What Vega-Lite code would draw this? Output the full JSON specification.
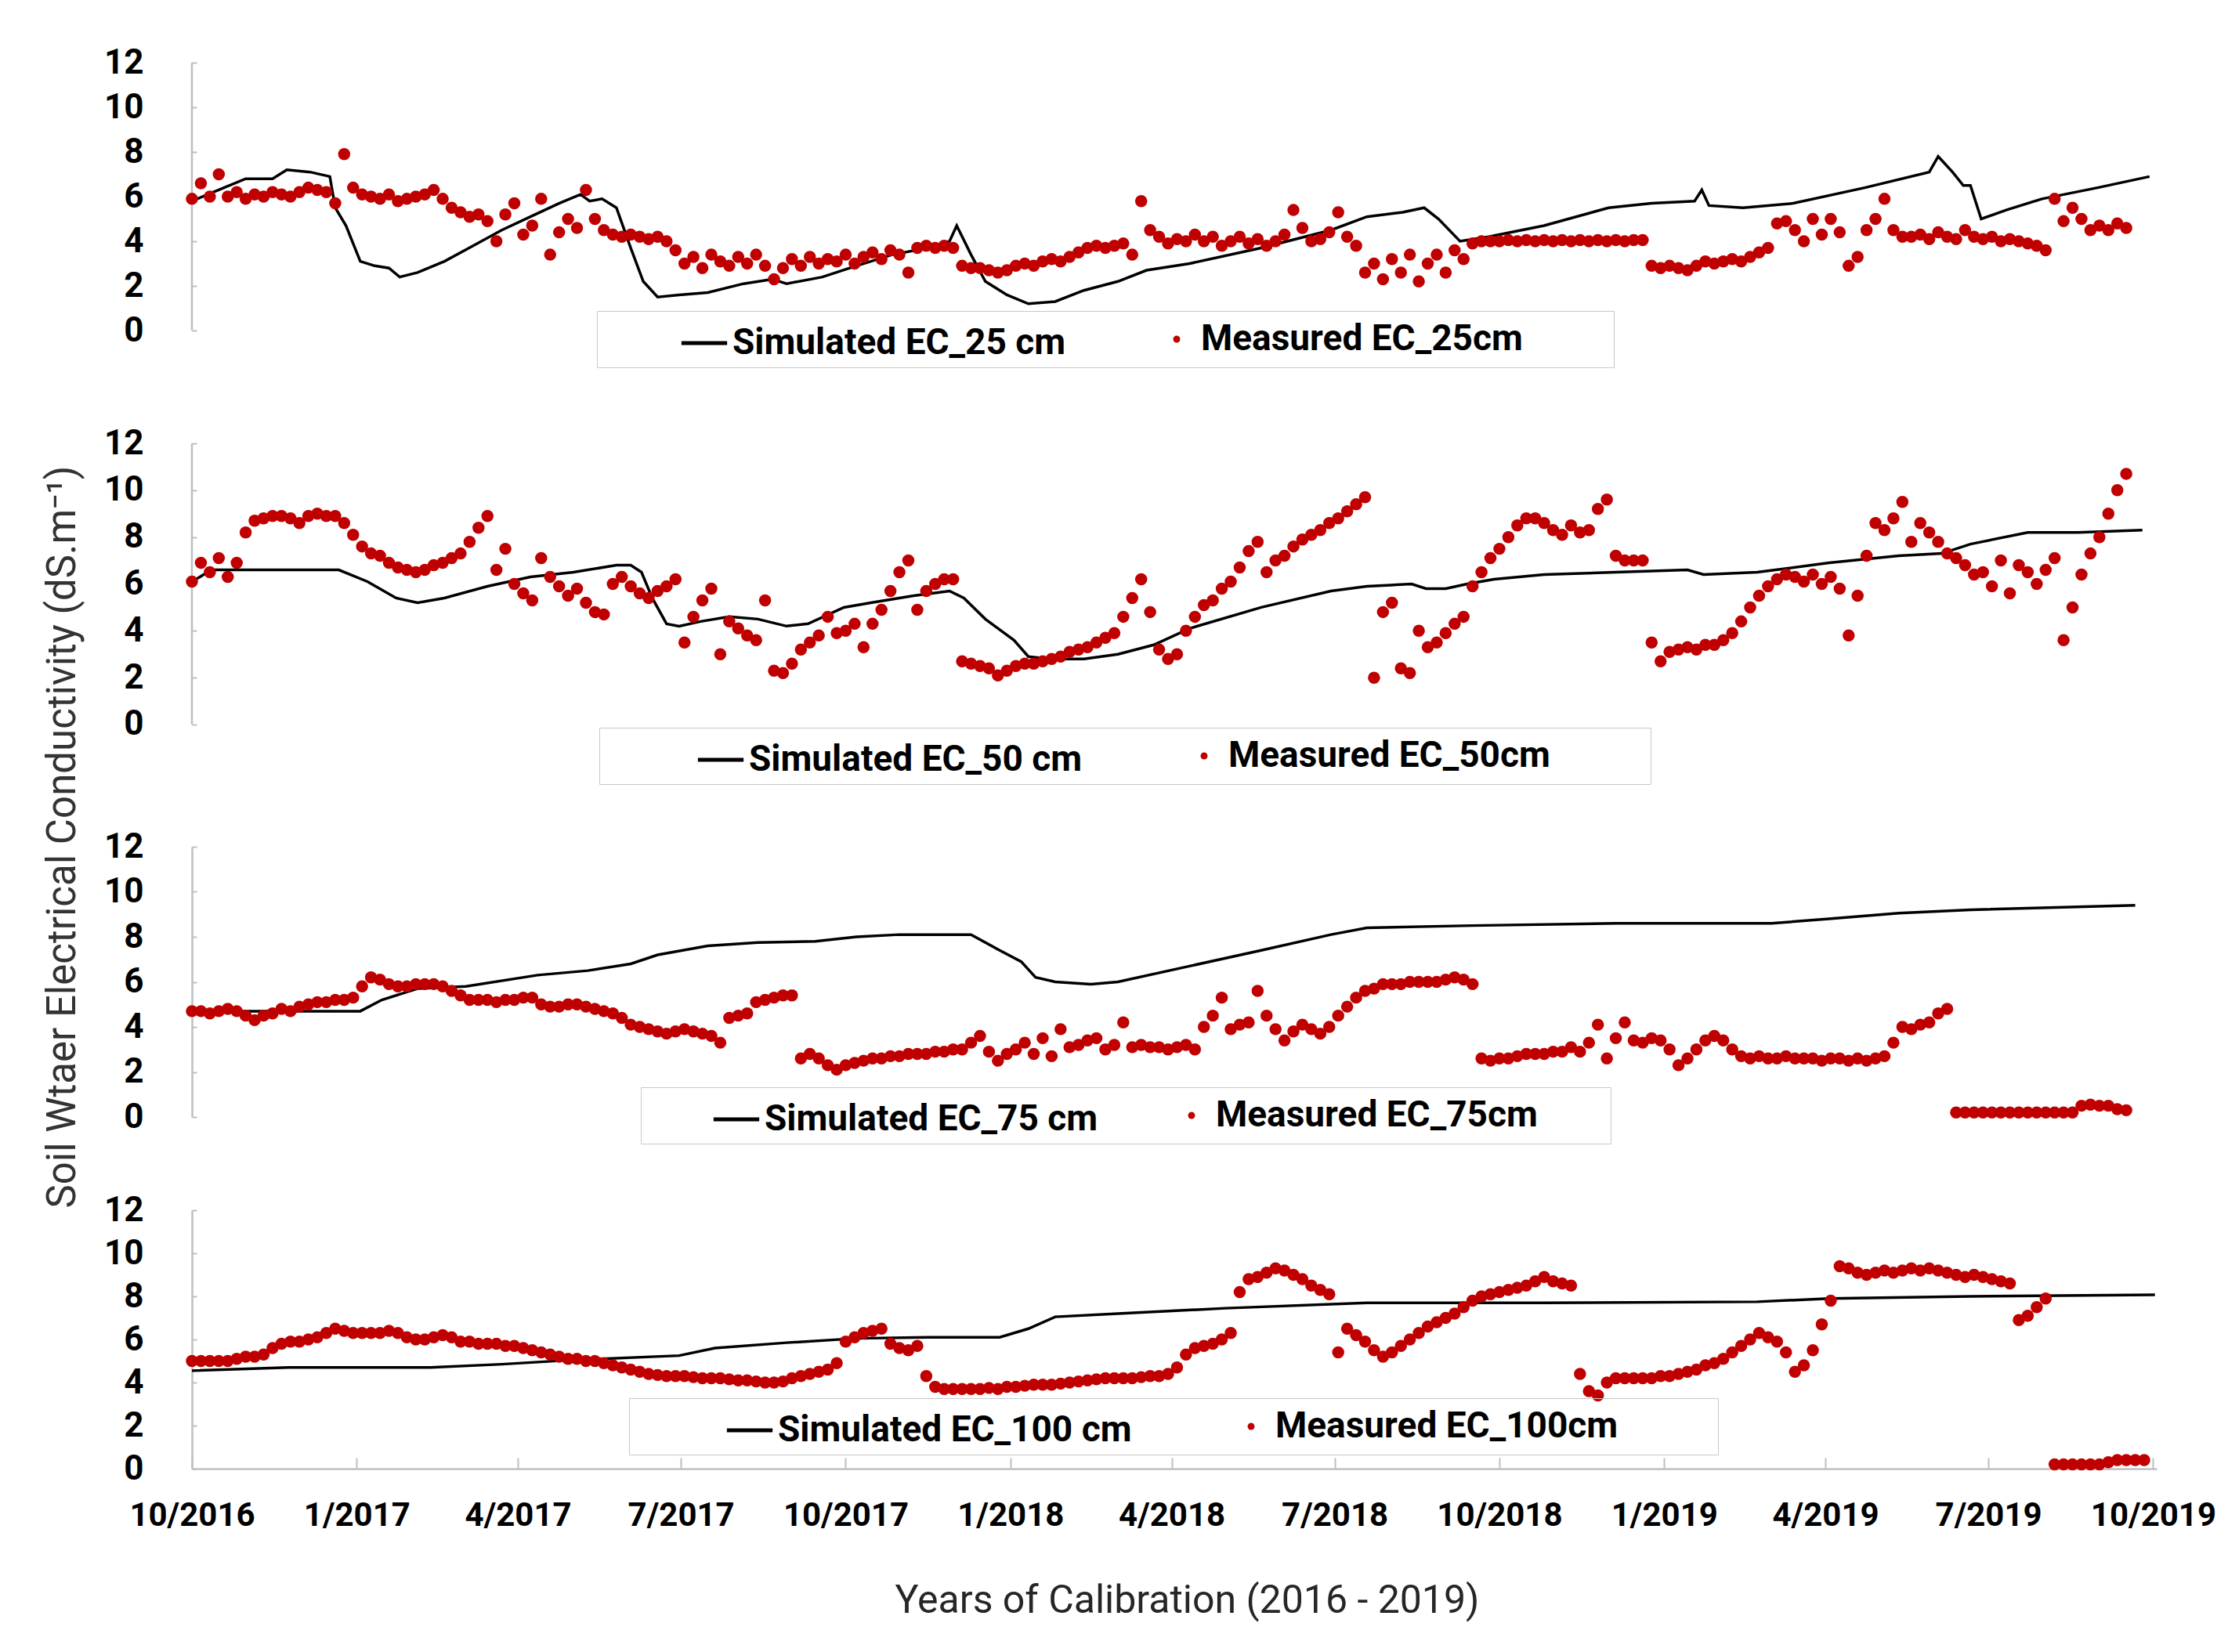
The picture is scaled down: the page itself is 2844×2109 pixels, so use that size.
{
"$schema": "https://vega.github.io/schema/vega-lite/v6.json",
"background": "white",
"padding": {"left": 53, "top": 58, "right": 30, "bottom": 30},
"spacing": 119,
"bounds": "flush",
"resolve": {"scale": {"color": "independent", "fill": "independent"}, "legend": {"color": "independent", "fill": "independent"}},
"config": {
  "view": {"stroke": null},
  "font": "Roboto",
  "axis": {"domainColor": "#bfbfbf", "domainWidth": 2.5, "tickColor": "#bfbfbf", "tickWidth": 2, "grid": false,
    "labelFont": "Roboto", "labelFontWeight": "bold", "labelFontSize": 44, "labelColor": "black", "labelLimit": 400,
    "titleFont": "Roboto", "titleFontWeight": "normal", "titleColor": "#262626"},
  "legend": {"orient": "none", "direction": "horizontal",
    "labelFont": "Roboto", "labelFontSize": 46, "labelFontWeight": "bold", "labelColor": "black", "labelLimit": 3000,
    "titleFont": "Roboto", "titleFontSize": 46, "padding": 9}
},
"datasets": {
"meas": [
{"d":"2016-10-01","m25":5.9,"m50":6.1,"m75":4.7,"m100":5.0},
{"d":"2016-10-06","m25":6.6,"m50":6.9,"m75":4.7,"m100":5.0},
{"d":"2016-10-11","m25":6.0,"m50":6.5,"m75":4.6,"m100":5.0},
{"d":"2016-10-16","m25":7.0,"m50":7.1,"m75":4.7,"m100":5.0},
{"d":"2016-10-21","m25":6.0,"m50":6.3,"m75":4.8,"m100":5.0},
{"d":"2016-10-26","m25":6.2,"m50":6.9,"m75":4.7,"m100":5.1},
{"d":"2016-10-31","m25":5.9,"m50":8.2,"m75":4.5,"m100":5.2},
{"d":"2016-11-05","m25":6.1,"m50":8.7,"m75":4.3,"m100":5.2},
{"d":"2016-11-10","m25":6.0,"m50":8.8,"m75":4.5,"m100":5.3},
{"d":"2016-11-15","m25":6.2,"m50":8.9,"m75":4.6,"m100":5.6},
{"d":"2016-11-20","m25":6.1,"m50":8.9,"m75":4.8,"m100":5.8},
{"d":"2016-11-25","m25":6.0,"m50":8.8,"m75":4.7,"m100":5.9},
{"d":"2016-11-30","m25":6.2,"m50":8.6,"m75":4.9,"m100":5.9},
{"d":"2016-12-05","m25":6.4,"m50":8.9,"m75":5.0,"m100":6.0},
{"d":"2016-12-10","m25":6.3,"m50":9.0,"m75":5.1,"m100":6.1},
{"d":"2016-12-15","m25":6.2,"m50":8.9,"m75":5.1,"m100":6.3},
{"d":"2016-12-20","m25":5.7,"m50":8.9,"m75":5.2,"m100":6.5},
{"d":"2016-12-25","m25":7.9,"m50":8.6,"m75":5.2,"m100":6.4},
{"d":"2016-12-30","m25":6.4,"m50":8.1,"m75":5.3,"m100":6.3},
{"d":"2017-01-04","m25":6.1,"m50":7.6,"m75":5.8,"m100":6.3},
{"d":"2017-01-09","m25":6.0,"m50":7.3,"m75":6.2,"m100":6.3},
{"d":"2017-01-14","m25":5.9,"m50":7.2,"m75":6.1,"m100":6.3},
{"d":"2017-01-19","m25":6.1,"m50":6.9,"m75":5.9,"m100":6.4},
{"d":"2017-01-24","m25":5.8,"m50":6.7,"m75":5.8,"m100":6.3},
{"d":"2017-01-29","m25":5.9,"m50":6.6,"m75":5.8,"m100":6.1},
{"d":"2017-02-03","m25":6.0,"m50":6.5,"m75":5.9,"m100":6.0},
{"d":"2017-02-08","m25":6.1,"m50":6.6,"m75":5.9,"m100":6.0},
{"d":"2017-02-13","m25":6.3,"m50":6.8,"m75":5.9,"m100":6.1},
{"d":"2017-02-18","m25":5.9,"m50":6.9,"m75":5.8,"m100":6.2},
{"d":"2017-02-23","m25":5.5,"m50":7.1,"m75":5.6,"m100":6.1},
{"d":"2017-02-28","m25":5.3,"m50":7.3,"m75":5.4,"m100":5.9},
{"d":"2017-03-05","m25":5.1,"m50":7.8,"m75":5.2,"m100":5.9},
{"d":"2017-03-10","m25":5.2,"m50":8.4,"m75":5.2,"m100":5.8},
{"d":"2017-03-15","m25":4.9,"m50":8.9,"m75":5.2,"m100":5.8},
{"d":"2017-03-20","m25":4.0,"m50":6.6,"m75":5.1,"m100":5.8},
{"d":"2017-03-25","m25":5.2,"m50":7.5,"m75":5.2,"m100":5.7},
{"d":"2017-03-30","m25":5.7,"m50":6.0,"m75":5.2,"m100":5.7},
{"d":"2017-04-04","m25":4.3,"m50":5.6,"m75":5.3,"m100":5.6},
{"d":"2017-04-09","m25":4.7,"m50":5.3,"m75":5.3,"m100":5.5},
{"d":"2017-04-14","m25":5.9,"m50":7.1,"m75":5.0,"m100":5.4},
{"d":"2017-04-19","m25":3.4,"m50":6.3,"m75":4.9,"m100":5.3},
{"d":"2017-04-24","m25":4.4,"m50":5.9,"m75":4.9,"m100":5.2},
{"d":"2017-04-29","m25":5.0,"m50":5.5,"m75":5.0,"m100":5.1},
{"d":"2017-05-04","m25":4.6,"m50":5.8,"m75":5.0,"m100":5.1},
{"d":"2017-05-09","m25":6.3,"m50":5.2,"m75":4.9,"m100":5.0},
{"d":"2017-05-14","m25":5.0,"m50":4.8,"m75":4.8,"m100":5.0},
{"d":"2017-05-19","m25":4.5,"m50":4.7,"m75":4.7,"m100":4.9},
{"d":"2017-05-24","m25":4.3,"m50":6.0,"m75":4.6,"m100":4.8},
{"d":"2017-05-29","m25":4.2,"m50":6.3,"m75":4.4,"m100":4.7},
{"d":"2017-06-03","m25":4.3,"m50":5.9,"m75":4.1,"m100":4.6},
{"d":"2017-06-08","m25":4.2,"m50":5.6,"m75":4.0,"m100":4.5},
{"d":"2017-06-13","m25":4.1,"m50":5.4,"m75":3.9,"m100":4.4},
{"d":"2017-06-18","m25":4.2,"m50":5.7,"m75":3.8,"m100":4.35},
{"d":"2017-06-23","m25":4.0,"m50":5.9,"m75":3.7,"m100":4.3},
{"d":"2017-06-28","m25":3.6,"m50":6.2,"m75":3.8,"m100":4.3},
{"d":"2017-07-03","m25":3.0,"m50":3.5,"m75":3.9,"m100":4.3},
{"d":"2017-07-08","m25":3.3,"m50":4.6,"m75":3.8,"m100":4.25},
{"d":"2017-07-13","m25":2.8,"m50":5.3,"m75":3.7,"m100":4.2},
{"d":"2017-07-18","m25":3.4,"m50":5.8,"m75":3.6,"m100":4.2},
{"d":"2017-07-23","m25":3.1,"m50":3.0,"m75":3.3,"m100":4.2},
{"d":"2017-07-28","m25":2.9,"m50":4.4,"m75":4.4,"m100":4.15},
{"d":"2017-08-02","m25":3.3,"m50":4.1,"m75":4.5,"m100":4.1},
{"d":"2017-08-07","m25":3.0,"m50":3.8,"m75":4.6,"m100":4.1},
{"d":"2017-08-12","m25":3.4,"m50":3.6,"m75":5.1,"m100":4.05},
{"d":"2017-08-17","m25":2.9,"m50":5.3,"m75":5.2,"m100":4.0},
{"d":"2017-08-22","m25":2.3,"m50":2.3,"m75":5.3,"m100":4.0},
{"d":"2017-08-27","m25":2.8,"m50":2.2,"m75":5.4,"m100":4.05},
{"d":"2017-09-01","m25":3.2,"m50":2.6,"m75":5.4,"m100":4.2},
{"d":"2017-09-06","m25":2.9,"m50":3.2,"m75":2.6,"m100":4.3},
{"d":"2017-09-11","m25":3.3,"m50":3.5,"m75":2.8,"m100":4.4},
{"d":"2017-09-16","m25":3.0,"m50":3.8,"m75":2.6,"m100":4.5},
{"d":"2017-09-21","m25":3.2,"m50":4.6,"m75":2.3,"m100":4.6},
{"d":"2017-09-26","m25":3.1,"m50":3.9,"m75":2.1,"m100":4.9},
{"d":"2017-10-01","m25":3.4,"m50":4.0,"m75":2.3,"m100":5.9},
{"d":"2017-10-06","m25":3.0,"m50":4.3,"m75":2.4,"m100":6.1},
{"d":"2017-10-11","m25":3.3,"m50":3.3,"m75":2.5,"m100":6.3},
{"d":"2017-10-16","m25":3.5,"m50":4.3,"m75":2.6,"m100":6.4},
{"d":"2017-10-21","m25":3.2,"m50":4.9,"m75":2.6,"m100":6.5},
{"d":"2017-10-26","m25":3.6,"m50":5.7,"m75":2.7,"m100":5.8},
{"d":"2017-10-31","m25":3.4,"m50":6.5,"m75":2.7,"m100":5.6},
{"d":"2017-11-05","m25":2.6,"m50":7.0,"m75":2.8,"m100":5.5},
{"d":"2017-11-10","m25":3.7,"m50":4.9,"m75":2.8,"m100":5.7},
{"d":"2017-11-15","m25":3.8,"m50":5.7,"m75":2.8,"m100":4.3},
{"d":"2017-11-20","m25":3.7,"m50":6.0,"m75":2.9,"m100":3.8},
{"d":"2017-11-25","m25":3.8,"m50":6.2,"m75":2.9,"m100":3.7},
{"d":"2017-11-30","m25":3.7,"m50":6.2,"m75":3.0,"m100":3.7},
{"d":"2017-12-05","m25":2.9,"m50":2.7,"m75":3.0,"m100":3.7},
{"d":"2017-12-10","m25":2.8,"m50":2.6,"m75":3.3,"m100":3.7},
{"d":"2017-12-15","m25":2.8,"m50":2.5,"m75":3.6,"m100":3.7},
{"d":"2017-12-20","m25":2.7,"m50":2.4,"m75":2.9,"m100":3.75},
{"d":"2017-12-25","m25":2.6,"m50":2.1,"m75":2.5,"m100":3.7},
{"d":"2017-12-30","m25":2.7,"m50":2.3,"m75":2.8,"m100":3.8},
{"d":"2018-01-04","m25":2.9,"m50":2.5,"m75":3.0,"m100":3.8},
{"d":"2018-01-09","m25":3.0,"m50":2.6,"m75":3.3,"m100":3.85},
{"d":"2018-01-14","m25":2.9,"m50":2.6,"m75":2.8,"m100":3.9},
{"d":"2018-01-19","m25":3.1,"m50":2.7,"m75":3.5,"m100":3.9},
{"d":"2018-01-24","m25":3.2,"m50":2.8,"m75":2.7,"m100":3.9},
{"d":"2018-01-29","m25":3.1,"m50":2.9,"m75":3.9,"m100":3.95},
{"d":"2018-02-03","m25":3.3,"m50":3.1,"m75":3.1,"m100":4.0},
{"d":"2018-02-08","m25":3.5,"m50":3.2,"m75":3.2,"m100":4.05},
{"d":"2018-02-13","m25":3.7,"m50":3.3,"m75":3.4,"m100":4.1},
{"d":"2018-02-18","m25":3.8,"m50":3.5,"m75":3.5,"m100":4.15},
{"d":"2018-02-23","m25":3.7,"m50":3.7,"m75":3.0,"m100":4.2},
{"d":"2018-02-28","m25":3.8,"m50":3.9,"m75":3.2,"m100":4.2},
{"d":"2018-03-05","m25":3.9,"m50":4.6,"m75":4.2,"m100":4.2},
{"d":"2018-03-10","m25":3.4,"m50":5.4,"m75":3.1,"m100":4.2},
{"d":"2018-03-15","m25":5.8,"m50":6.2,"m75":3.2,"m100":4.25},
{"d":"2018-03-20","m25":4.5,"m50":4.8,"m75":3.1,"m100":4.3},
{"d":"2018-03-25","m25":4.2,"m50":3.2,"m75":3.1,"m100":4.3},
{"d":"2018-03-30","m25":3.9,"m50":2.8,"m75":3.0,"m100":4.4},
{"d":"2018-04-04","m25":4.1,"m50":3.0,"m75":3.1,"m100":4.7},
{"d":"2018-04-09","m25":4.0,"m50":4.0,"m75":3.2,"m100":5.3},
{"d":"2018-04-14","m25":4.3,"m50":4.6,"m75":3.0,"m100":5.6},
{"d":"2018-04-19","m25":4.0,"m50":5.1,"m75":4.0,"m100":5.7},
{"d":"2018-04-24","m25":4.2,"m50":5.3,"m75":4.5,"m100":5.8},
{"d":"2018-04-29","m25":3.8,"m50":5.8,"m75":5.3,"m100":6.0},
{"d":"2018-05-04","m25":4.0,"m50":6.1,"m75":3.9,"m100":6.3},
{"d":"2018-05-09","m25":4.2,"m50":6.7,"m75":4.1,"m100":8.2},
{"d":"2018-05-14","m25":3.9,"m50":7.4,"m75":4.2,"m100":8.8},
{"d":"2018-05-19","m25":4.1,"m50":7.8,"m75":5.6,"m100":8.9},
{"d":"2018-05-24","m25":3.8,"m50":6.5,"m75":4.5,"m100":9.1},
{"d":"2018-05-29","m25":4.0,"m50":7.0,"m75":3.9,"m100":9.3},
{"d":"2018-06-03","m25":4.3,"m50":7.2,"m75":3.4,"m100":9.2},
{"d":"2018-06-08","m25":5.4,"m50":7.6,"m75":3.8,"m100":9.0},
{"d":"2018-06-13","m25":4.6,"m50":7.9,"m75":4.1,"m100":8.8},
{"d":"2018-06-18","m25":4.0,"m50":8.1,"m75":3.9,"m100":8.5},
{"d":"2018-06-23","m25":4.1,"m50":8.3,"m75":3.7,"m100":8.3},
{"d":"2018-06-28","m25":4.4,"m50":8.6,"m75":4.0,"m100":8.1},
{"d":"2018-07-03","m25":5.3,"m50":8.8,"m75":4.5,"m100":5.4},
{"d":"2018-07-08","m25":4.2,"m50":9.1,"m75":4.9,"m100":6.5},
{"d":"2018-07-13","m25":3.8,"m50":9.4,"m75":5.3,"m100":6.2},
{"d":"2018-07-18","m25":2.6,"m50":9.7,"m75":5.6,"m100":5.9},
{"d":"2018-07-23","m25":3.0,"m50":2.0,"m75":5.7,"m100":5.5},
{"d":"2018-07-28","m25":2.3,"m50":4.8,"m75":5.9,"m100":5.2},
{"d":"2018-08-02","m25":3.2,"m50":5.2,"m75":5.9,"m100":5.4},
{"d":"2018-08-07","m25":2.6,"m50":2.4,"m75":5.9,"m100":5.7},
{"d":"2018-08-12","m25":3.4,"m50":2.2,"m75":6.0,"m100":6.0},
{"d":"2018-08-17","m25":2.2,"m50":4.0,"m75":6.0,"m100":6.3},
{"d":"2018-08-22","m25":3.0,"m50":3.3,"m75":6.0,"m100":6.6},
{"d":"2018-08-27","m25":3.4,"m50":3.5,"m75":6.0,"m100":6.8},
{"d":"2018-09-01","m25":2.6,"m50":3.9,"m75":6.1,"m100":7.0},
{"d":"2018-09-06","m25":3.6,"m50":4.3,"m75":6.2,"m100":7.2},
{"d":"2018-09-11","m25":3.2,"m50":4.6,"m75":6.1,"m100":7.5},
{"d":"2018-09-16","m25":3.9,"m50":5.9,"m75":5.9,"m100":7.8},
{"d":"2018-09-21","m25":4.0,"m50":6.5,"m75":2.6,"m100":8.0},
{"d":"2018-09-26","m25":4.0,"m50":7.1,"m75":2.5,"m100":8.1},
{"d":"2018-10-01","m25":4.0,"m50":7.5,"m75":2.6,"m100":8.2},
{"d":"2018-10-06","m25":4.05,"m50":8.0,"m75":2.6,"m100":8.3},
{"d":"2018-10-11","m25":4.0,"m50":8.5,"m75":2.7,"m100":8.4},
{"d":"2018-10-16","m25":4.05,"m50":8.8,"m75":2.8,"m100":8.5},
{"d":"2018-10-21","m25":4.0,"m50":8.8,"m75":2.8,"m100":8.7},
{"d":"2018-10-26","m25":4.05,"m50":8.6,"m75":2.8,"m100":8.9},
{"d":"2018-10-31","m25":4.0,"m50":8.3,"m75":2.9,"m100":8.7},
{"d":"2018-11-05","m25":4.05,"m50":8.1,"m75":2.9,"m100":8.6},
{"d":"2018-11-10","m25":4.0,"m50":8.5,"m75":3.1,"m100":8.5},
{"d":"2018-11-15","m25":4.05,"m50":8.2,"m75":2.9,"m100":4.4},
{"d":"2018-11-20","m25":4.0,"m50":8.3,"m75":3.3,"m100":3.6},
{"d":"2018-11-25","m25":4.05,"m50":9.2,"m75":4.1,"m100":3.4},
{"d":"2018-11-30","m25":4.0,"m50":9.6,"m75":2.6,"m100":4.0},
{"d":"2018-12-05","m25":4.05,"m50":7.2,"m75":3.5,"m100":4.2},
{"d":"2018-12-10","m25":4.0,"m50":7.0,"m75":4.2,"m100":4.2},
{"d":"2018-12-15","m25":4.05,"m50":7.0,"m75":3.4,"m100":4.2},
{"d":"2018-12-20","m25":4.05,"m50":7.0,"m75":3.3,"m100":4.2},
{"d":"2018-12-25","m25":2.9,"m50":3.5,"m75":3.5,"m100":4.2},
{"d":"2018-12-30","m25":2.8,"m50":2.7,"m75":3.4,"m100":4.3},
{"d":"2019-01-04","m25":2.9,"m50":3.1,"m75":3.0,"m100":4.3},
{"d":"2019-01-09","m25":2.8,"m50":3.2,"m75":2.3,"m100":4.4},
{"d":"2019-01-14","m25":2.7,"m50":3.3,"m75":2.6,"m100":4.5},
{"d":"2019-01-19","m25":2.9,"m50":3.2,"m75":3.0,"m100":4.6},
{"d":"2019-01-24","m25":3.1,"m50":3.4,"m75":3.4,"m100":4.8},
{"d":"2019-01-29","m25":3.0,"m50":3.4,"m75":3.6,"m100":4.9},
{"d":"2019-02-03","m25":3.1,"m50":3.6,"m75":3.4,"m100":5.1},
{"d":"2019-02-08","m25":3.2,"m50":3.9,"m75":3.0,"m100":5.4},
{"d":"2019-02-13","m25":3.1,"m50":4.4,"m75":2.7,"m100":5.7},
{"d":"2019-02-18","m25":3.3,"m50":5.0,"m75":2.6,"m100":6.0},
{"d":"2019-02-23","m25":3.5,"m50":5.5,"m75":2.7,"m100":6.3},
{"d":"2019-02-28","m25":3.7,"m50":5.9,"m75":2.6,"m100":6.1},
{"d":"2019-03-05","m25":4.8,"m50":6.2,"m75":2.6,"m100":5.9},
{"d":"2019-03-10","m25":4.9,"m50":6.4,"m75":2.7,"m100":5.4},
{"d":"2019-03-15","m25":4.5,"m50":6.3,"m75":2.6,"m100":4.5},
{"d":"2019-03-20","m25":4.0,"m50":6.1,"m75":2.6,"m100":4.8},
{"d":"2019-03-25","m25":5.0,"m50":6.4,"m75":2.6,"m100":5.5},
{"d":"2019-03-30","m25":4.3,"m50":6.0,"m75":2.5,"m100":6.7},
{"d":"2019-04-04","m25":5.0,"m50":6.3,"m75":2.6,"m100":7.8},
{"d":"2019-04-09","m25":4.4,"m50":5.8,"m75":2.6,"m100":9.4},
{"d":"2019-04-14","m25":2.9,"m50":3.8,"m75":2.5,"m100":9.3},
{"d":"2019-04-19","m25":3.3,"m50":5.5,"m75":2.6,"m100":9.1},
{"d":"2019-04-24","m25":4.5,"m50":7.2,"m75":2.5,"m100":9.0},
{"d":"2019-04-29","m25":5.0,"m50":8.6,"m75":2.6,"m100":9.1},
{"d":"2019-05-04","m25":5.9,"m50":8.3,"m75":2.7,"m100":9.2},
{"d":"2019-05-09","m25":4.5,"m50":8.8,"m75":3.3,"m100":9.1},
{"d":"2019-05-14","m25":4.2,"m50":9.5,"m75":4.0,"m100":9.2},
{"d":"2019-05-19","m25":4.2,"m50":7.8,"m75":3.9,"m100":9.3},
{"d":"2019-05-24","m25":4.3,"m50":8.6,"m75":4.1,"m100":9.2},
{"d":"2019-05-29","m25":4.1,"m50":8.2,"m75":4.2,"m100":9.3},
{"d":"2019-06-03","m25":4.4,"m50":7.8,"m75":4.6,"m100":9.2},
{"d":"2019-06-08","m25":4.2,"m50":7.3,"m75":4.8,"m100":9.1},
{"d":"2019-06-13","m25":4.1,"m50":7.1,"m75":0.2,"m100":9.0},
{"d":"2019-06-18","m25":4.5,"m50":6.8,"m75":0.2,"m100":8.9},
{"d":"2019-06-23","m25":4.2,"m50":6.4,"m75":0.2,"m100":9.0},
{"d":"2019-06-28","m25":4.1,"m50":6.5,"m75":0.2,"m100":8.9},
{"d":"2019-07-03","m25":4.2,"m50":5.9,"m75":0.2,"m100":8.8},
{"d":"2019-07-08","m25":4.0,"m50":7.0,"m75":0.2,"m100":8.7},
{"d":"2019-07-13","m25":4.1,"m50":5.6,"m75":0.2,"m100":8.6},
{"d":"2019-07-18","m25":4.0,"m50":6.8,"m75":0.2,"m100":6.9},
{"d":"2019-07-23","m25":3.9,"m50":6.5,"m75":0.2,"m100":7.1},
{"d":"2019-07-28","m25":3.8,"m50":6.0,"m75":0.2,"m100":7.5},
{"d":"2019-08-02","m25":3.6,"m50":6.6,"m75":0.2,"m100":7.9},
{"d":"2019-08-07","m25":5.9,"m50":7.1,"m75":0.2,"m100":0.2},
{"d":"2019-08-12","m25":4.9,"m50":3.6,"m75":0.2,"m100":0.2},
{"d":"2019-08-17","m25":5.5,"m50":5.0,"m75":0.2,"m100":0.2},
{"d":"2019-08-22","m25":5.0,"m50":6.4,"m75":0.5,"m100":0.2},
{"d":"2019-08-27","m25":4.5,"m50":7.3,"m75":0.55,"m100":0.2},
{"d":"2019-09-01","m25":4.7,"m50":8.0,"m75":0.5,"m100":0.2},
{"d":"2019-09-06","m25":4.5,"m50":9.0,"m75":0.5,"m100":0.3},
{"d":"2019-09-11","m25":4.8,"m50":10.0,"m75":0.35,"m100":0.4},
{"d":"2019-09-16","m25":4.6,"m50":10.7,"m75":0.3,"m100":0.4},
{"d":"2019-09-21","m25":null,"m50":null,"m75":null,"m100":0.4},
{"d":"2019-09-26","m25":null,"m50":null,"m75":null,"m100":0.4}
],
"s25": [
{"d":"2016-10-01","v":5.8},{"d":"2016-10-16","v":6.3},{"d":"2016-10-31","v":6.8},{"d":"2016-11-15","v":6.8},
{"d":"2016-11-23","v":7.2},{"d":"2016-12-06","v":7.1},{"d":"2016-12-17","v":6.9},{"d":"2016-12-20","v":5.5},
{"d":"2016-12-26","v":4.7},{"d":"2017-01-03","v":3.1},{"d":"2017-01-11","v":2.9},{"d":"2017-01-19","v":2.8},
{"d":"2017-01-25","v":2.4},{"d":"2017-02-04","v":2.6},{"d":"2017-02-19","v":3.1},{"d":"2017-03-07","v":3.8},
{"d":"2017-03-23","v":4.5},{"d":"2017-04-08","v":5.1},{"d":"2017-04-24","v":5.7},{"d":"2017-05-06","v":6.1},
{"d":"2017-05-11","v":5.8},{"d":"2017-05-18","v":5.9},{"d":"2017-05-26","v":5.5},{"d":"2017-06-03","v":3.7},
{"d":"2017-06-10","v":2.2},{"d":"2017-06-18","v":1.5},{"d":"2017-06-30","v":1.6},{"d":"2017-07-16","v":1.7},
{"d":"2017-08-05","v":2.1},{"d":"2017-08-21","v":2.3},{"d":"2017-08-29","v":2.1},{"d":"2017-09-18","v":2.4},
{"d":"2017-10-07","v":2.9},{"d":"2017-10-27","v":3.4},{"d":"2017-11-16","v":3.7},{"d":"2017-11-28","v":4.0},
{"d":"2017-12-02","v":4.7},{"d":"2017-12-10","v":3.4},{"d":"2017-12-18","v":2.2},{"d":"2017-12-30","v":1.6},
{"d":"2018-01-11","v":1.2},{"d":"2018-01-26","v":1.3},{"d":"2018-02-11","v":1.8},{"d":"2018-03-02","v":2.2},
{"d":"2018-03-18","v":2.7},{"d":"2018-04-11","v":3.0},{"d":"2018-05-21","v":3.7},{"d":"2018-06-29","v":4.5},
{"d":"2018-07-19","v":5.1},{"d":"2018-08-08","v":5.3},{"d":"2018-08-20","v":5.5},{"d":"2018-08-28","v":5.0},
{"d":"2018-09-09","v":4.0},{"d":"2018-09-25","v":4.2},{"d":"2018-10-26","v":4.7},{"d":"2018-12-01","v":5.5},
{"d":"2018-12-25","v":5.7},{"d":"2019-01-18","v":5.8},{"d":"2019-01-22","v":6.3},{"d":"2019-01-26","v":5.6},
{"d":"2019-02-14","v":5.5},{"d":"2019-03-14","v":5.7},{"d":"2019-04-23","v":6.4},{"d":"2019-05-29","v":7.1},
{"d":"2019-06-03","v":7.8},{"d":"2019-06-11","v":7.1},{"d":"2019-06-17","v":6.5},{"d":"2019-06-21","v":6.5},
{"d":"2019-06-27","v":5.0},{"d":"2019-07-11","v":5.4},{"d":"2019-07-31","v":5.9},{"d":"2019-08-31","v":6.4},
{"d":"2019-09-29","v":6.9}
],
"s50": [
{"d":"2016-10-01","v":6.1},{"d":"2016-10-12","v":6.6},{"d":"2016-12-22","v":6.6},{"d":"2017-01-07","v":6.1},
{"d":"2017-01-23","v":5.4},{"d":"2017-02-04","v":5.2},{"d":"2017-02-19","v":5.4},{"d":"2017-03-15","v":5.9},
{"d":"2017-04-08","v":6.3},{"d":"2017-05-02","v":6.5},{"d":"2017-05-26","v":6.8},{"d":"2017-06-03","v":6.8},
{"d":"2017-06-09","v":6.5},{"d":"2017-06-15","v":5.4},{"d":"2017-06-23","v":4.3},{"d":"2017-06-30","v":4.2},
{"d":"2017-07-12","v":4.4},{"d":"2017-07-28","v":4.6},{"d":"2017-08-13","v":4.5},{"d":"2017-08-29","v":4.2},
{"d":"2017-09-10","v":4.3},{"d":"2017-09-30","v":5.0},{"d":"2017-10-15","v":5.2},{"d":"2017-11-08","v":5.5},
{"d":"2017-11-28","v":5.7},{"d":"2017-12-06","v":5.4},{"d":"2017-12-18","v":4.5},{"d":"2018-01-03","v":3.6},
{"d":"2018-01-11","v":2.9},{"d":"2018-01-23","v":2.8},{"d":"2018-02-11","v":2.8},{"d":"2018-03-02","v":3.0},
{"d":"2018-03-22","v":3.4},{"d":"2018-04-11","v":4.1},{"d":"2018-05-21","v":5.0},{"d":"2018-06-29","v":5.7},
{"d":"2018-07-19","v":5.9},{"d":"2018-08-13","v":6.0},{"d":"2018-08-21","v":5.8},{"d":"2018-09-01","v":5.8},
{"d":"2018-09-13","v":6.0},{"d":"2018-09-28","v":6.2},{"d":"2018-10-26","v":6.4},{"d":"2018-12-05","v":6.5},
{"d":"2019-01-14","v":6.6},{"d":"2019-01-23","v":6.4},{"d":"2019-02-22","v":6.5},{"d":"2019-04-03","v":6.9},
{"d":"2019-05-12","v":7.2},{"d":"2019-06-05","v":7.3},{"d":"2019-06-21","v":7.7},{"d":"2019-07-23","v":8.2},
{"d":"2019-08-20","v":8.2},{"d":"2019-09-25","v":8.3}
],
"s75": [
{"d":"2016-10-01","v":4.7},{"d":"2017-01-03","v":4.7},{"d":"2017-01-15","v":5.2},{"d":"2017-02-04","v":5.7},
{"d":"2017-03-03","v":5.8},{"d":"2017-04-12","v":6.3},{"d":"2017-05-10","v":6.5},{"d":"2017-06-03","v":6.8},
{"d":"2017-06-18","v":7.2},{"d":"2017-07-16","v":7.6},{"d":"2017-08-13","v":7.75},{"d":"2017-09-14","v":7.8},
{"d":"2017-10-07","v":8.0},{"d":"2017-10-31","v":8.1},{"d":"2017-12-10","v":8.1},{"d":"2017-12-26","v":7.4},
{"d":"2018-01-07","v":6.9},{"d":"2018-01-15","v":6.2},{"d":"2018-01-26","v":6.0},{"d":"2018-02-15","v":5.9},
{"d":"2018-03-02","v":6.0},{"d":"2018-04-11","v":6.7},{"d":"2018-05-21","v":7.4},{"d":"2018-06-29","v":8.1},
{"d":"2018-07-19","v":8.4},{"d":"2018-09-16","v":8.5},{"d":"2018-12-05","v":8.6},{"d":"2019-03-02","v":8.6},
{"d":"2019-04-03","v":8.8},{"d":"2019-05-12","v":9.05},{"d":"2019-06-21","v":9.2},{"d":"2019-09-21","v":9.4}
],
"s100": [
{"d":"2016-10-01","v":4.55},{"d":"2016-11-24","v":4.7},{"d":"2017-02-11","v":4.7},{"d":"2017-03-23","v":4.85},
{"d":"2017-05-02","v":5.05},{"d":"2017-06-30","v":5.25},{"d":"2017-07-20","v":5.6},{"d":"2017-08-29","v":5.85},
{"d":"2017-10-07","v":6.05},{"d":"2017-11-16","v":6.1},{"d":"2017-12-26","v":6.1},{"d":"2018-01-11","v":6.5},
{"d":"2018-01-26","v":7.05},{"d":"2018-03-02","v":7.2},{"d":"2018-05-01","v":7.45},{"d":"2018-07-19","v":7.7},
{"d":"2018-10-26","v":7.7},{"d":"2019-02-22","v":7.75},{"d":"2019-04-03","v":7.9},{"d":"2019-06-21","v":8.0},
{"d":"2019-10-02","v":8.07}
]
},
"vconcat": [
{
"width": 2508, "height": 367,
"layer": [
{"data": {"values": [{}]}, "mark": {"type": "rule", "color": "#bfbfbf", "strokeWidth": 2.5},
 "encoding": {
  "x": {"datum": {"year":2016,"month":10,"date":1}, "type": "temporal", "scale": {"domain": [{"year":2016,"month":10,"date":1},{"year":2019,"month":10,"date":3}]}, "axis": null},
  "y": {"datum": 0, "type": "quantitative", "scale": {"domain": [-0.877, 12], "nice": false, "zero": false},
   "axis": {"values": [0,2,4,6,8,10,12], "title": null, "tickSize": -6, "labelPadding": 68, "domain": false}},
  "y2": {"datum": 12}
 }},
{"data": {"name": "s25"}, "mark": {"type": "line", "strokeWidth": 3.5},
 "encoding": {
  "x": {"field": "d", "type": "temporal"},
  "y": {"field": "v", "type": "quantitative"},
  "color": {"datum": "Simulated EC_25 cm", "type": "nominal", "scale": {"range": ["black"]},
   "legend": {"title": "\u00a0", "titleOrient": "left", "titlePadding": 96, "legendX": 517, "legendY": 317,
    "symbolType": "stroke", "symbolStrokeWidth": 5, "symbolSize": 3400, "labelOffset": 4}}
 }},
{"data": {"name": "meas"}, "mark": {"type": "circle", "size": 240, "opacity": 1},
 "encoding": {
  "x": {"field": "d", "type": "temporal"},
  "y": {"field": "m25", "type": "quantitative"},
  "fill": {"datum": "Measured EC_25cm", "type": "nominal", "scale": {"range": ["#c00000"]},
   "legend": {"title": "\u00a0", "titleOrient": "left", "titlePadding": 704, "padding": 13, "legendX": 517, "legendY": 317, "symbolType": "circle", "symbolSize": 80, "labelOffset": 8,
    "strokeColor": "#c8c8c8", "labelExpr": "pad(datum.label, 25, '\u00a0') + '\u200b'"}}
 }}
]
},
{
"width": 2508, "height": 396,
"layer": [
{"data": {"values": [{}]}, "mark": {"type": "rule", "color": "#bfbfbf", "strokeWidth": 2.5},
 "encoding": {
  "x": {"datum": {"year":2016,"month":10,"date":1}, "type": "temporal", "scale": {"domain": [{"year":2016,"month":10,"date":1},{"year":2019,"month":10,"date":3}]}, "axis": null},
  "y": {"datum": 0, "type": "quantitative", "scale": {"domain": [-1.237, 12], "nice": false, "zero": false},
   "axis": {"values": [0,2,4,6,8,10,12], "tickSize": -6, "labelPadding": 68, "domain": false,
    "title": "Soil Wtaer Electrical Conductivity (dS.m\u207b\u00b9)", "titleX": -165, "titleY": 502, "titleAngle": 270, "titleAlign": "center", "titleBaseline": "middle",
    "titleFont": "Roboto", "titleFontSize": 51, "titleFontWeight": "normal", "titleColor": "#333333"}},
  "y2": {"datum": 12}
 }},
{"data": {"name": "s50"}, "mark": {"type": "line", "strokeWidth": 3.5},
 "encoding": {
  "x": {"field": "d", "type": "temporal"},
  "y": {"field": "v", "type": "quantitative"},
  "color": {"datum": "Simulated EC_50 cm", "type": "nominal", "scale": {"range": ["black"]},
   "legend": {"title": "\u00a0", "titleOrient": "left", "titlePadding": 114, "legendX": 520, "legendY": 363,
    "symbolType": "stroke", "symbolStrokeWidth": 5, "symbolSize": 3400, "labelOffset": 4}}
 }},
{"data": {"name": "meas"}, "mark": {"type": "circle", "size": 240, "opacity": 1},
 "encoding": {
  "x": {"field": "d", "type": "temporal"},
  "y": {"field": "m50", "type": "quantitative"},
  "fill": {"datum": "Measured EC_50cm", "type": "nominal", "scale": {"range": ["#c00000"]},
   "legend": {"title": "\u00a0", "titleOrient": "left", "titlePadding": 736, "padding": 13, "legendX": 520, "legendY": 363, "symbolType": "circle", "symbolSize": 80, "labelOffset": 8,
    "strokeColor": "#c8c8c8", "labelExpr": "pad(datum.label, 26, '\u00a0') + '\u200b'"}}
 }}
]
},
{
"width": 2508, "height": 345,
"layer": [
{"data": {"name": "s75"}, "mark": {"type": "line", "strokeWidth": 3.5},
 "encoding": {
  "x": {"field": "d", "type": "temporal", "scale": {"domain": [{"year":2016,"month":10,"date":1},{"year":2019,"month":10,"date":3}]}, "axis": null},
  "y": {"field": "v", "type": "quantitative", "scale": {"domain": [0, 12], "nice": false}, "axis": {"values": [0,2,4,6,8,10,12], "title": null, "tickSize": -6, "labelPadding": 68}},
  "color": {"datum": "Simulated EC_75 cm", "type": "nominal", "scale": {"range": ["black"]},
   "legend": {"title": "\u00a0", "titleOrient": "left", "titlePadding": 81, "legendX": 573, "legendY": 307,
    "symbolType": "stroke", "symbolStrokeWidth": 5, "symbolSize": 3400, "labelOffset": 4}}
 }},
{"data": {"name": "meas"}, "mark": {"type": "circle", "size": 240, "opacity": 1},
 "encoding": {
  "x": {"field": "d", "type": "temporal"},
  "y": {"field": "m75", "type": "quantitative"},
  "fill": {"datum": "Measured EC_75cm", "type": "nominal", "scale": {"range": ["#c00000"]},
   "legend": {"title": "\u00a0", "titleOrient": "left", "titlePadding": 667, "padding": 13, "legendX": 573, "legendY": 307, "symbolType": "circle", "symbolSize": 80, "labelOffset": 8,
    "strokeColor": "#c8c8c8", "labelExpr": "pad(datum.label, 23, '\u00a0') + '\u200b'"}}
 }}
]
},
{
"width": 2508, "height": 330,
"layer": [
{"data": {"name": "s100"}, "mark": {"type": "line", "strokeWidth": 3.5},
 "encoding": {
  "x": {"field": "d", "type": "temporal", "scale": {"domain": [{"year":2016,"month":10,"date":1},{"year":2019,"month":10,"date":3}]},
   "axis": {"values": [{"year":2016,"month":10,"date":1},{"year":2017,"month":1,"date":1},{"year":2017,"month":4,"date":1},{"year":2017,"month":7,"date":1},{"year":2017,"month":10,"date":1},{"year":2018,"month":1,"date":1},{"year":2018,"month":4,"date":1},{"year":2018,"month":7,"date":1},{"year":2018,"month":10,"date":1},{"year":2019,"month":1,"date":1},{"year":2019,"month":4,"date":1},{"year":2019,"month":7,"date":1},{"year":2019,"month":10,"date":1}],
    "format": "%-m/%Y", "labelAngle": 0, "labelAlign": "center", "labelFlush": false, "labelOverlap": false, "tickSize": -14, "labelPadding": 53, "labelFontSize": 42,
    "title": "Years of Calibration (2016 - 2019)", "titleFontSize": 50, "titlePadding": 63, "titleX": 1270}},
  "y": {"field": "v", "type": "quantitative", "scale": {"domain": [0, 12], "nice": false}, "axis": {"values": [0,2,4,6,8,10,12], "title": null, "tickSize": -6, "labelPadding": 68}},
  "color": {"datum": "Simulated EC_100 cm", "type": "nominal", "scale": {"range": ["black"]},
   "legend": {"title": "\u00a0", "titleOrient": "left", "titlePadding": 113, "legendX": 558, "legendY": 240,
    "symbolType": "stroke", "symbolStrokeWidth": 5, "symbolSize": 3400, "labelOffset": 4}}
 }},
{"data": {"name": "meas"}, "mark": {"type": "circle", "size": 240, "opacity": 1},
 "encoding": {
  "x": {"field": "d", "type": "temporal"},
  "y": {"field": "m100", "type": "quantitative"},
  "fill": {"datum": "Measured EC_100cm", "type": "nominal", "scale": {"range": ["#c00000"]},
   "legend": {"title": "\u00a0", "titleOrient": "left", "titlePadding": 758, "padding": 13, "legendX": 558, "legendY": 240, "symbolType": "circle", "symbolSize": 80, "labelOffset": 8,
    "strokeColor": "#c8c8c8", "labelExpr": "pad(datum.label, 27, '\u00a0') + '\u200b'"}}
 }}
]
}
]
}
